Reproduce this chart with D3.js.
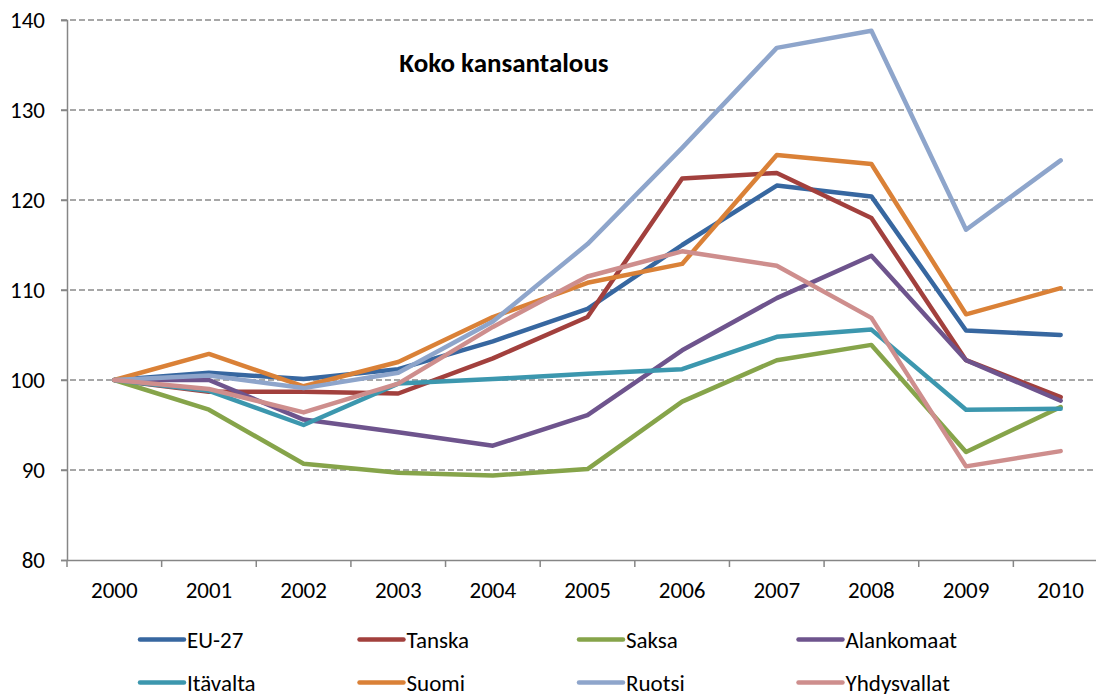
<!DOCTYPE html>
<html><head><meta charset="utf-8">
<script src="https://cdn.jsdelivr.net/npm/d3@7/dist/d3.min.js"></script>
<style>body{margin:0;background:#fff}svg{display:block}text{font-family:Carlito,Calibri,Lato,sans-serif;fill:#000}</style>
</head><body>
<svg id="c" width="1096" height="694"></svg>
<script>
const years = ["2000","2001","2002","2003","2004","2005","2006","2007","2008","2009","2010"];
const yTicks = [80,90,100,110,120,130,140];
const title = "Koko kansantalous";
const seriesNames = ["EU-27","Tanska","Saksa","Alankomaat","Itävalta","Suomi","Ruotsi","Yhdysvallat"];
const seriesColors = ["#3767A0","#A2403D","#86A44A","#6E548D","#3C97AE","#DA8137","#8EA5CB","#CE8E8D"];
const eu27 =        [100,100.8,100.1,101.2,104.3,107.9,115.0,121.6,120.4,105.5,105.0];
const tanska =      [100,98.7,98.7,98.5,102.4,107.0,122.4,123.0,118.0,102.2,98.1];
const saksa =       [100,96.7,90.7,89.7,89.4,90.1,97.6,102.2,103.9,92.0,97.0];
const alankomaat =  [100,100.0,95.6,94.2,92.7,96.1,103.3,109.1,113.8,102.2,97.7];
const itavalta =    [100,98.8,95.0,99.6,100.1,100.7,101.2,104.8,105.6,96.7,96.8];
const suomi =       [100,102.9,99.3,102.0,107.0,110.8,112.9,125.0,124.0,107.3,110.2];
const ruotsi =      [100,100.5,99.1,100.8,106.5,115.1,125.8,136.9,138.8,116.7,124.4];
const yhdysvallat = [100,99.0,96.4,99.6,105.9,111.5,114.3,112.7,106.9,90.4,92.1];
const seriesValues = [eu27,tanska,saksa,alankomaat,itavalta,suomi,ruotsi,yhdysvallat];

const svg = d3.select("#c");
const L = 67, R = 1108, T = 20, B = 560;
const x = d3.scaleBand().domain(years).range([L, R]);
const y = d3.scaleLinear().domain([80,140]).range([B, T]);
const cx = d => x(d) + x.bandwidth()/2;
const FF = "Carlito,Calibri,Lato,sans-serif";

// gridlines
svg.append("g").selectAll("line").data(yTicks.filter(v => v > 80)).join("line")
  .attr("x1", L-6).attr("x2", R).attr("y1", d => y(d)).attr("y2", d => y(d))
  .attr("stroke", "#8a8a8a").attr("stroke-width", 1.3).attr("stroke-dasharray", "6,3");

// y axis
const ya = svg.append("g").attr("transform", `translate(${L},0)`)
  .call(d3.axisLeft(y).tickValues(yTicks).tickSize(6).tickPadding(16));
ya.select(".domain").attr("stroke", "#868686").attr("stroke-width", 1.5);
ya.selectAll(".tick line").attr("stroke", "#868686").attr("stroke-width", 1.5);
ya.selectAll(".tick text").attr("font-size", 23).attr("font-family", FF).attr("fill", "#000");

// x axis
const xa = svg.append("g").attr("transform", `translate(0,${B})`)
  .call(d3.axisBottom(x).tickSize(0).tickPadding(22));
xa.select(".domain").attr("stroke", "#868686").attr("stroke-width", 1.5);
xa.selectAll(".tick text").attr("font-size", 23).attr("font-family", FF).attr("fill", "#000");
svg.append("g").selectAll("line").data(years).join("line")
  .attr("x1", d => x(d)).attr("x2", d => x(d)).attr("y1", B).attr("y2", B+7)
  .attr("stroke", "#868686").attr("stroke-width", 1.5);

// lines
const line = d3.line().x((d,i) => cx(years[i])).y(d => y(d));
svg.append("g").selectAll("path").data(seriesValues).join("path")
  .attr("d", d => line(d)).attr("fill", "none")
  .attr("stroke", (d,i) => seriesColors[i]).attr("stroke-width", 4.5)
  .attr("stroke-linejoin", "round").attr("stroke-linecap", "round");

// title
svg.append("text").attr("x", 504).attr("y", 72).attr("text-anchor", "middle")
  .attr("font-size", 27).attr("font-weight", "bold").text(title);

// legend
const lg = svg.append("g").selectAll("g").data(seriesNames).join("g")
  .attr("transform", (d,i) => `translate(${140 + (i%4)*219.5},${i<4 ? 639.5 : 682.5})`);
lg.append("line").attr("x1", 0).attr("x2", 44).attr("y1", 0).attr("y2", 0)
  .attr("stroke", (d,i) => seriesColors[i]).attr("stroke-width", 4.5).attr("stroke-linecap", "round");
lg.append("text").attr("x", 47).attr("y", 8).attr("font-size", 23).text(d => d);
</script>
</body></html>
